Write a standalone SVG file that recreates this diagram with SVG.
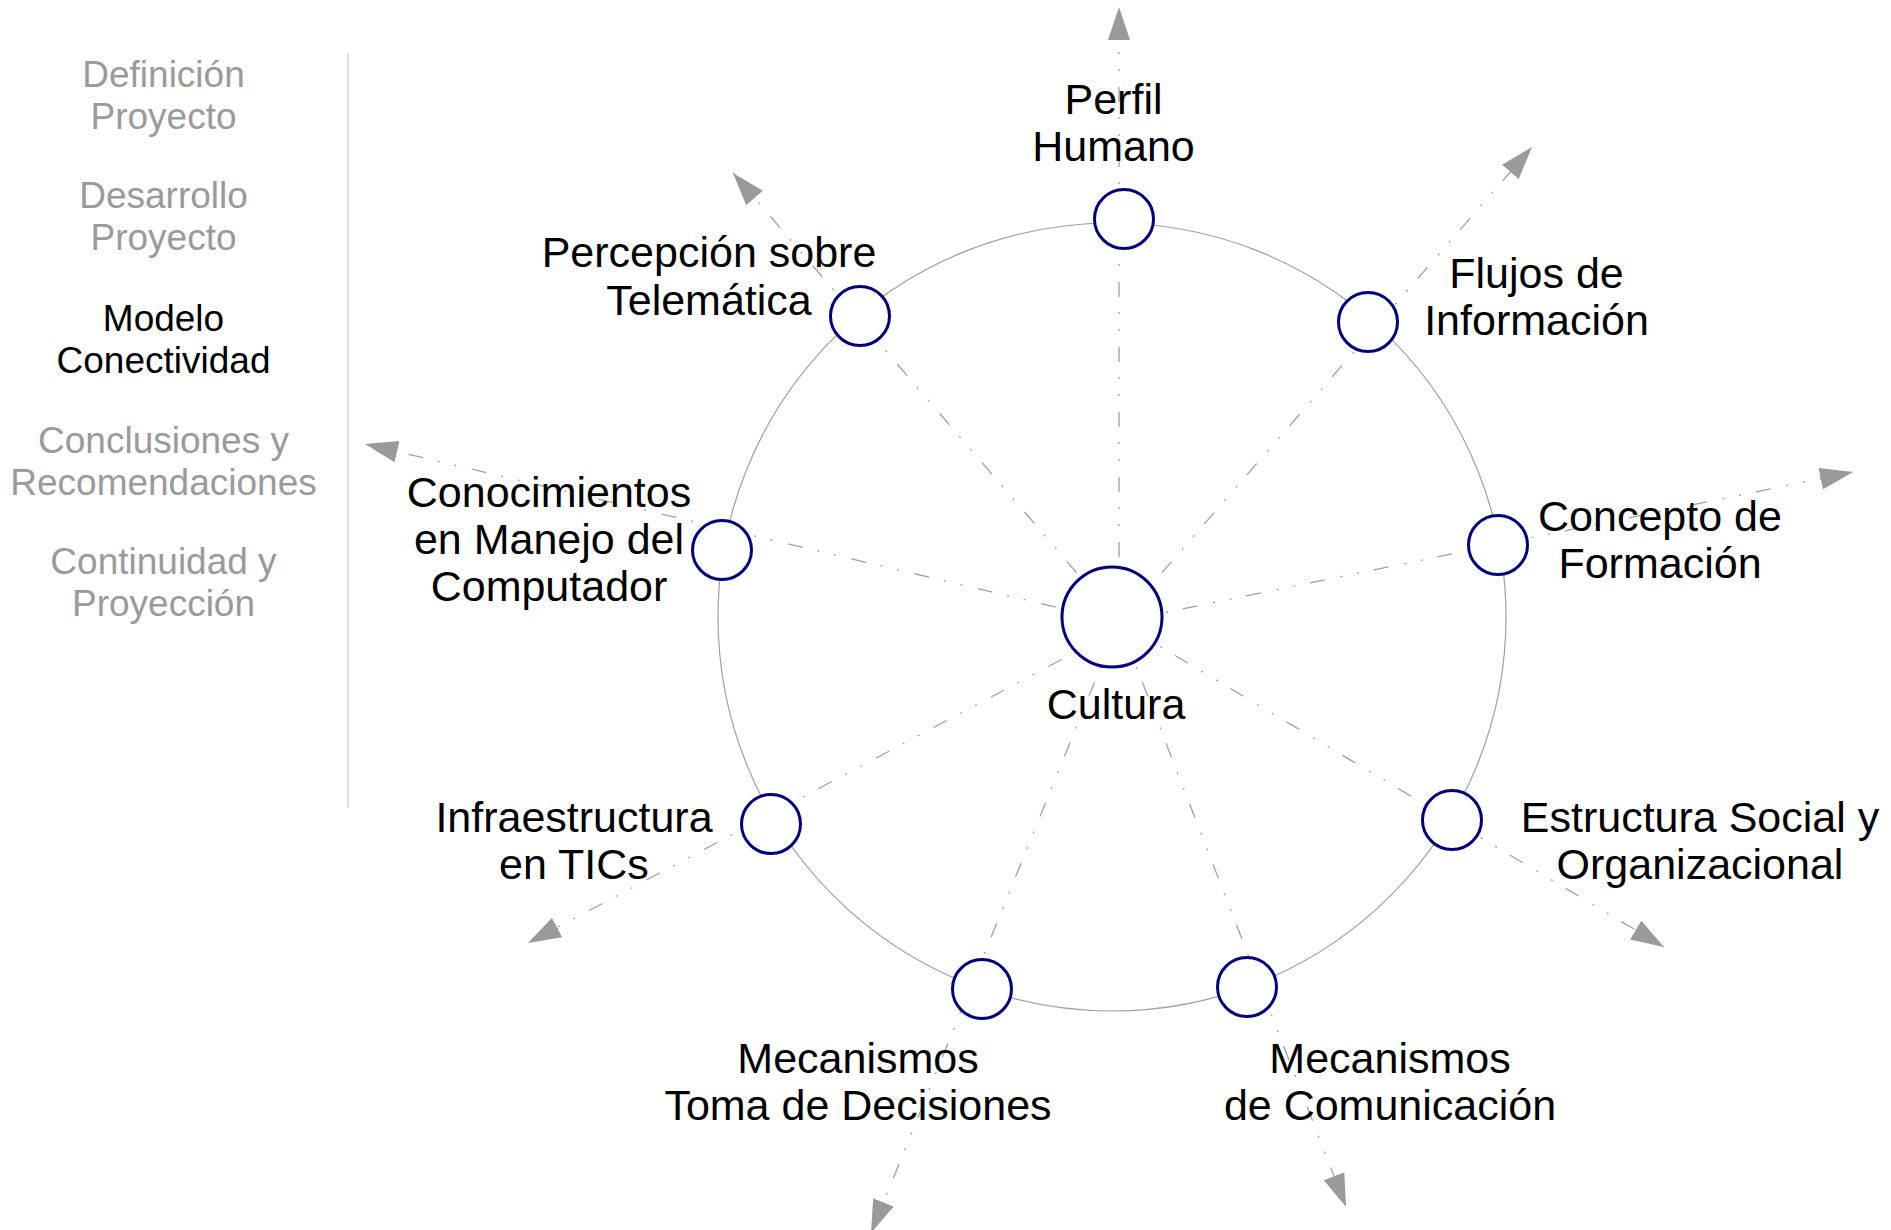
<svg xmlns="http://www.w3.org/2000/svg" width="1891" height="1230" viewBox="0 0 1891 1230">
<style>
  .bg{fill:#ffffff}
  .menu{font-family:"Liberation Sans",Arial,sans-serif;font-size:37px;fill:#9a9a9a;text-anchor:middle}
  .menu.active{fill:#000000}
  .lbl{font-family:"Liberation Sans",Arial,sans-serif;font-size:43px;fill:#000000;text-anchor:middle}
  .ring{fill:none;stroke:#a0a0a0;stroke-width:1.2}
  .conn{fill:none;stroke:#a0a0a0;stroke-width:1.3;stroke-dasharray:15 16 2 15 2 15;marker-end:url(#arrow)}
  .node{fill:#ffffff;stroke:#000080;stroke-width:3}
  .divider{stroke:#e0e0e0;stroke-width:2}
</style>
<defs>
  <marker id="arrow" markerUnits="userSpaceOnUse" markerWidth="34" markerHeight="22" refX="33" refY="11" orient="auto" viewBox="0 0 34 22">
    <path d="M0,0 L33,11 L0,22 Z" fill="#9a9a9a"/>
  </marker>
</defs>
<rect class="bg" x="0" y="0" width="1891" height="1230"/>

<g id="menu">
  <text class="menu" x="163.5" y="87">Definición</text>
  <text class="menu" x="163.5" y="129">Proyecto</text>
  <text class="menu" x="163.5" y="208">Desarrollo</text>
  <text class="menu" x="163.5" y="250">Proyecto</text>
  <text class="menu active" x="163.5" y="331">Modelo</text>
  <text class="menu active" x="163.5" y="373">Conectividad</text>
  <text class="menu" x="163.5" y="453">Conclusiones y</text>
  <text class="menu" x="163.5" y="495">Recomendaciones</text>
  <text class="menu" x="163.5" y="574">Continuidad y</text>
  <text class="menu" x="163.5" y="616">Proyección</text>
  <line class="divider" x1="348" y1="53" x2="348" y2="808"/>
</g>

<g id="ring">
  <circle class="ring" cx="1112" cy="617" r="394"/>
</g>

<g id="connectors">
  <line class="conn" x1="1119" y1="622" x2="1119" y2="7"/>
  <line class="conn" x1="1119" y1="622" x2="1532" y2="147"/>
  <line class="conn" x1="1119" y1="622" x2="1853" y2="472"/>
  <line class="conn" x1="1119" y1="622" x2="1664" y2="947"/>
  <line class="conn" x1="1119" y1="622" x2="1346" y2="1207"/>
  <line class="conn" x1="1119" y1="622" x2="871" y2="1233"/>
  <line class="conn" x1="1119" y1="629" x2="528" y2="943"/>
  <line class="conn" x1="1119" y1="622" x2="365" y2="444"/>
  <line class="conn" x1="1119" y1="622" x2="733" y2="173"/>
</g>

<g id="node-cultura">
  <circle class="node" cx="1112" cy="617" r="50"/>
  <text class="lbl" x="1116" y="719">Cultura</text>
</g>
<g id="node-perfil">
  <circle class="node" cx="1124" cy="219" r="29.5"/>
  <text class="lbl" x="1113.5" y="114">Perfil</text>
  <text class="lbl" x="1113.5" y="161">Humano</text>
</g>
<g id="node-flujos">
  <circle class="node" cx="1368" cy="322" r="29.5"/>
  <text class="lbl" x="1536.5" y="288">Flujos de</text>
  <text class="lbl" x="1536.5" y="335">Información</text>
</g>
<g id="node-concepto">
  <circle class="node" cx="1498" cy="545" r="29.5"/>
  <text class="lbl" x="1660" y="531">Concepto de</text>
  <text class="lbl" x="1660" y="578">Formación</text>
</g>
<g id="node-estructura">
  <circle class="node" cx="1452" cy="820" r="29.5"/>
  <text class="lbl" x="1700" y="832">Estructura Social y</text>
  <text class="lbl" x="1700" y="879">Organizacional</text>
</g>
<g id="node-comunicacion">
  <circle class="node" cx="1247" cy="987" r="29.5"/>
  <text class="lbl" x="1390" y="1073">Mecanismos</text>
  <text class="lbl" x="1390" y="1120">de Comunicación</text>
</g>
<g id="node-decisiones">
  <circle class="node" cx="982" cy="989" r="29.5"/>
  <text class="lbl" x="858" y="1073">Mecanismos</text>
  <text class="lbl" x="858" y="1120">Toma de Decisiones</text>
</g>
<g id="node-infraestructura">
  <circle class="node" cx="771" cy="824" r="29.5"/>
  <text class="lbl" x="574" y="832">Infraestructura</text>
  <text class="lbl" x="574" y="879">en TICs</text>
</g>
<g id="node-conocimientos">
  <circle class="node" cx="722" cy="550" r="29.5"/>
  <text class="lbl" x="549" y="507">Conocimientos</text>
  <text class="lbl" x="549" y="554">en Manejo del</text>
  <text class="lbl" x="549" y="601">Computador</text>
</g>
<g id="node-percepcion">
  <circle class="node" cx="860" cy="316" r="29.5"/>
  <text class="lbl" x="709" y="267">Percepción sobre</text>
  <text class="lbl" x="709" y="315">Telemática</text>
</g>
</svg>
